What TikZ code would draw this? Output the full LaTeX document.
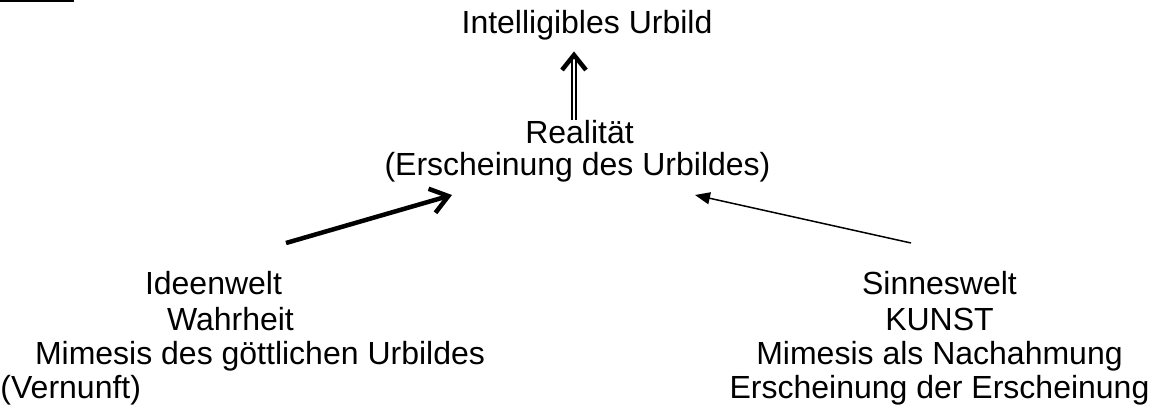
\documentclass[tikz,border=0pt]{standalone}
\usepackage{fontspec}
\setmainfont{Liberation Sans}
\usetikzlibrary{arrows.meta}
\tikzset{
  lbl/.style={inner sep=0pt, outer sep=0pt, font=\fontsize{32}{36.4}\selectfont},
  thickarrow/.style={line width=4.5pt, -{Straight Barb[length=17pt,width=25pt,line width=4.5pt]}},
  thinarrow/.style={line width=1.5pt, -{Triangle[length=15pt,width=12pt]}},
  dblshaft/.style={double, double distance=2pt, line width=1.8pt},
  chevron/.style={line width=4.5pt, line join=miter},
}
\begin{document}
\begin{tikzpicture}[x=1pt,y=-1pt]
\useasboundingbox (0,0) rectangle (1156,407);
% top-left rule
\draw[line width=2.5pt] (0,1.2) coordinate (rs) -- (74,1.2) coordinate (re);
% top
\node[lbl, anchor=base] (top) at (587,33.5) {Intelligibles Urbild};
\node[lbl, anchor=base] (real) at (579.5,143) {Realität};
\node[lbl, anchor=base] (ersch) at (577.5,175) {(Erscheinung des Urbildes)};
% left block
\node[lbl, anchor=base west] (l1) at (145,294.5) {Ideenwelt};
\node[lbl, anchor=base west] (l2) at (167,330) {Wahrheit};
\node[lbl, anchor=base west] (l3) at (35,364.5) {Mimesis des göttlichen Urbildes};
\node[lbl, anchor=base west] (l4) at (0.5,398) {(Vernunft)};
% right block
\node[lbl, anchor=base] (r1) at (939.5,294.5) {Sinneswelt};
\node[lbl, anchor=base] (r2) at (939.5,330) {KUNST};
\node[lbl, anchor=base] (r3) at (939.5,364.5) {Mimesis als Nachahmung};
\node[lbl, anchor=base] (r4) at (939.5,398) {Erscheinung der Erscheinung};
% double arrow up
\coordinate (dbot) at (574,120);
\coordinate (dtip) at (574,55);
\draw[dblshaft] (dbot) -- ([yshift=-5pt]dtip);
\draw[chevron] ([shift={(-12,15)}]dtip) -- (dtip) -- ([shift={(12,15)}]dtip);
% left thick arrow
\coordinate (ltail) at (286,243);
\coordinate (ltip) at (452,195);
\draw[thickarrow] (ltail) -- (ltip);
% right thin arrow
\coordinate (rtail) at (911,243);
\coordinate (rtip) at (695,195);
\draw[thinarrow] (rtail) -- (rtip);
\end{tikzpicture}
\end{document}
